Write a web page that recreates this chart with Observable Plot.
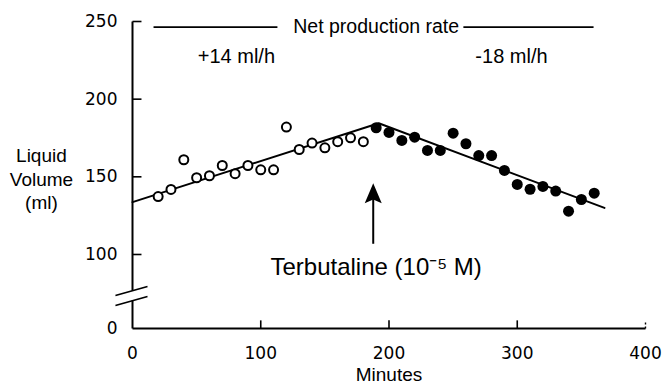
<!DOCTYPE html>
<html>
<head>
<meta charset="utf-8">
<script src="https://cdn.jsdelivr.net/npm/d3@7"></script>
<script src="https://cdn.jsdelivr.net/npm/@observablehq/plot@0.6"></script>
<style>
  html, body { margin: 0; padding: 0; background: #fff; }
</style>
</head>
<body>
<div id="chart"></div>
<script>
// ---- data ----
const minutesOpen = [20, 30, 40, 50, 60, 70, 80, 90, 100, 110, 120, 130, 140, 150, 160, 170, 180];
const volumeOpen  = [137.3, 141.9, 161.0, 149.4, 150.7, 157.3, 152.0, 157.3, 154.5, 154.5, 182.0, 167.6, 171.7, 168.7, 172.6, 175.1, 172.6];

const minutesFilled = [190, 200, 210, 220, 230, 240, 250, 260, 270, 280, 290, 300, 310, 320, 330, 340, 350, 360];
const volumeFilled  = [181.6, 178.6, 173.4, 175.5, 167.0, 167.0, 178.1, 171.3, 163.7, 163.7, 154.1, 145.1, 142.0, 143.8, 140.8, 127.9, 135.4, 139.5];

// fitted net-production lines
const fitMinutes = [0, 192, 368];
const fitVolume  = [133.7, 184.5, 130.0];

const xTicks = [0, 100, 200, 300, 400];
const yTicks = [0, 100, 150, 200, 250];

// annotations
const headerLabel = "Net production rate";
const rateLabels = ["+14 ml/h", "-18 ml/h"];
const rateMinutes = [81, 295.5];
const drugLabel = "Terbutaline (10\u207B\u2075 M)";
const drugMinute = 187.7;

// ---- broken y axis: values below 100 are compressed ----
const breakAt = 100, compress = 0.4765;
const yBreak = v => v >= breakAt ? v : breakAt - (breakAt - v) * compress;
const yUnbreak = u => u >= breakAt ? u : breakAt - (breakAt - u) / compress;

// ---- derived tables ----
const openPts = minutesOpen.map((m, i) => ({m, v: volumeOpen[i]}));
const filledPts = minutesFilled.map((m, i) => ({m, v: volumeFilled[i]}));
const fitPts = fitMinutes.map((m, i) => ({m, v: fitVolume[i]}));

// axis decoration as segments (data units)
const axisSegments = [
  {x1: 0, y1: 0, x2: 400, y2: 0},       // x axis
  {x1: 0, y1: 0, x2: 0, y2: 37.8},      // y axis below break
  {x1: 0, y1: 51.4, x2: 0, y2: 250}     // y axis above break
];
const tickSegments = [
  ...yTicks.filter(d => d > 0).map(y => ({x1: 0, y1: y, x2: 7, y2: y})),
  ...xTicks.filter(d => d > 0 && d < 400).map(x => ({x1: x, y1: 0, x2: x, y2: 11}))
];
const endTick = [{x1: 400, y1: 0, x2: 400, y2: 9}];
const breakSlashes = [
  {x1: -13.3, y1: 44.6, x2: 11.7, y2: 56.8},
  {x1: -13.3, y1: 31.1, x2: 11.7, y2: 43.2}
];
const headerRules = [{x1: 16.4, y1: 246.4, x2: 113, y2: 246.4}, {x1: 258, y1: 246.4, x2: 359.5, y2: 246.4}];
const arrowShaft = [{x1: drugMinute, y1: 106.9, x2: drugMinute, y2: 138}];
const arrowTip = [{x: drugMinute, y: 145.9}];

// filled arrow head symbol (tip at the anchor point)
const arrowHead = {
  draw(context, size) {
    const r = Math.sqrt(size / Math.PI);
    context.moveTo(0, 0);
    context.lineTo(-0.85 * r, 2 * r);
    context.lineTo(0, 1.64 * r);
    context.lineTo(0.85 * r, 2 * r);
    context.closePath();
  }
};

const Y = key => d => yBreak(d[key]);
const seg = (data, extra) => Plot.link(data, {x1: "x1", y1: Y("y1"), x2: "x2", y2: Y("y2"), stroke: "#000", ...extra});
const tickFont = "DejaVu Sans, sans-serif";

const chart = Plot.plot({
  width: 665, height: 389,
  marginLeft: 132, marginRight: 20, marginTop: 21, marginBottom: 61,
  style: {fontFamily: "Liberation Sans, Arial, sans-serif", color: "#000", background: "#fff", overflow: "visible"},
  x: {domain: [0, 400]},
  y: {domain: [yBreak(0), 250], range: [328, 21]},
  marks: [
    seg(axisSegments, {strokeWidth: 2}),
    seg(tickSegments, {strokeWidth: 1.6}),
    seg(endTick, {strokeWidth: 1.4, strokeDasharray: "2,2"}),
    seg(breakSlashes, {strokeWidth: 1.6}),
    Plot.axisY({ticks: yTicks.map(yBreak), tickFormat: u => String(Math.round(yUnbreak(u))), tickSize: 0, tickPadding: 15, label: null, fontSize: 17, fontFamily: tickFont}),
    Plot.axisX({ticks: xTicks, tickSize: 0, tickPadding: 18, label: null, fontSize: 17, fontFamily: tickFont}),
    Plot.text([{t: "Liquid\nVolume\n(ml)", x: -71, y: 149}], {x: "x", y: Y("y"), text: "t", fontSize: 19, lineHeight: 1.24}),
    Plot.text([{t: "Minutes", x: 200, y: -63}], {x: "x", y: Y("y"), text: "t", fontSize: 19}),
    seg(headerRules, {strokeWidth: 1.6}),
    Plot.text([{t: headerLabel, x: 190, y: 246.4}], {x: "x", y: Y("y"), text: "t", fontSize: 19.5}),
    Plot.text(rateLabels.map((t, i) => ({t, x: rateMinutes[i], y: 227.5})), {x: "x", y: Y("y"), text: "t", fontSize: 20}),
    Plot.line(fitPts, {x: "m", y: Y("v"), stroke: "#000", strokeWidth: 2}),
    Plot.dot(openPts, {x: "m", y: Y("v"), r: 4.5, stroke: "#000", strokeWidth: 2, fill: "#fff"}),
    Plot.dot(filledPts, {x: "m", y: Y("v"), r: 5.5, fill: "#000", stroke: "none"}),
    seg(arrowShaft, {strokeWidth: 2}),
    Plot.dot(arrowTip, {x: "x", y: Y("y"), symbol: arrowHead, r: 10, fill: "#000", stroke: "none"}),
    Plot.text([{t: drugLabel, x: 190, y: 83.2}], {x: "x", y: Y("y"), text: "t", fontSize: 24})
  ]
});

document.getElementById("chart").appendChild(chart);
</script>
</body>
</html>
